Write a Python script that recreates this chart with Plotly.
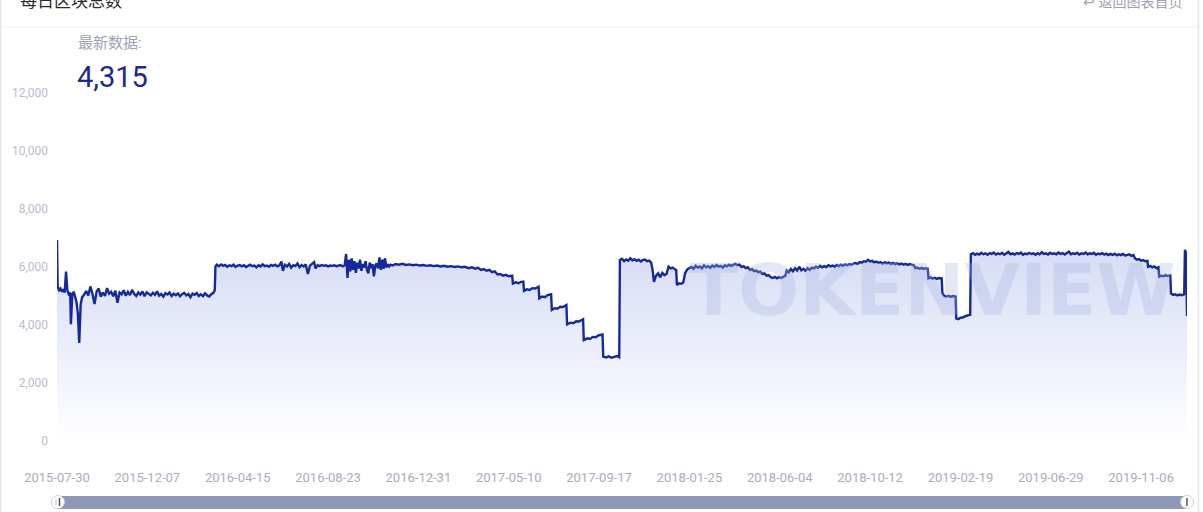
import plotly.graph_objects as go

# ---------------- data ----------------
tick_days = [0, 130, 260, 390, 520, 650, 780, 910, 1040, 1170, 1300, 1430, 1560]
tick_labels = ["2015-07-30", "2015-12-07", "2016-04-15", "2016-08-23", "2016-12-31",
               "2017-05-10", "2017-09-17", "2018-01-25", "2018-06-04", "2018-10-12",
               "2019-02-19", "2019-06-29", "2019-11-06"]
y_ticks = [0, 2000, 4000, 6000, 8000, 10000, 12000]
y_tick_labels = ["0", "2,000", "4,000", "6,000", "8,000", "10,000", "12,000"]
last_day = 1626
latest_value = "4,315"

# day index (days since 2015-07-30) and daily block count
days_2015 = [0, 1, 3, 5, 7, 9, 11, 13, 15, 17, 19, 20, 22, 24, 26, 28, 30, 32, 34, 36, 39, 42, 45, 48,
             51, 54, 57, 60, 63, 66, 69, 72, 75, 78, 81, 84, 87, 90, 93, 96, 99, 102, 105, 108, 111,
             114, 117, 120, 123, 126, 129, 132, 135, 138, 141, 144, 147, 150, 153, 156, 159, 162,
             165, 168, 171, 174, 177, 180, 183, 186, 189, 192, 195, 198, 201, 204, 207, 210, 213,
             216, 219, 222, 225, 227]
blocks_2015 = [6930, 5320, 5200, 5260, 5150, 5230, 5120, 5840, 5180, 5060, 5120, 4030, 5050, 5150,
               4980, 4800, 4400, 3380, 4700, 4950, 5050, 5170, 5020, 5330, 5080, 4720, 5150, 5260,
               4980, 5120, 5000, 5270, 5080, 5140, 4990, 5180, 4770, 5120, 5060, 5200, 5010, 5140,
               5030, 5210, 5080, 5000, 5120, 5050, 5160, 4990, 5130, 5060, 5020, 5110, 5040, 5160,
               5010, 5070, 4980, 5100, 5050, 5120, 5000, 5080, 5030, 5090, 4990, 5060, 5110, 5020,
               5070, 4960, 5080, 5040, 5100, 5000, 5060, 4990, 5090, 5020, 4980, 5060, 5110, 5200]

days_2016 = [228, 230, 233, 236, 239, 242, 245, 248, 251, 254, 257, 260, 263, 266, 269, 272, 275,
             278, 281, 284, 287, 290, 293, 296, 299, 302, 305, 308, 311, 314, 317, 320, 323, 325,
             328, 331, 334, 337, 340, 343, 346, 349, 352, 355, 358, 361, 364, 367, 370, 372, 375,
             378, 381, 384, 387, 390, 393, 396, 399, 402, 405, 408, 411, 414,
             416, 418, 420, 422, 424, 426, 428, 430, 432, 434, 436, 438, 440, 442, 444, 446, 448,
             450, 452, 454, 456, 458, 460, 462, 464, 466, 468, 470, 472, 474, 476, 478, 480, 483]
blocks_2016 = [6020, 6080, 6030, 6090, 6040, 6070, 6010, 6060, 6030, 6080, 6000, 6050, 6070, 6020,
               6060, 6000, 6040, 6080, 6030, 6050, 5990, 6060, 6020, 6090, 6030, 6050, 6010, 6070,
               6040, 6080, 6020, 6060, 6190, 5870, 6080, 6020, 6110, 5980, 6060, 6030, 6120, 5990,
               6070, 6020, 6090, 5760, 6050, 6100, 6170, 5950, 6060, 6030, 6070, 6040, 6060, 6020,
               6050, 6040, 6060, 6030, 6050, 6070, 6020, 6060,
               6450, 5620, 6250, 5850, 6300, 5900, 6200, 5800, 6150, 5950, 6250, 5870, 6100, 5980,
               6200, 5900, 5780, 6150, 5960, 6100, 5680, 6050, 6120, 5950, 6330, 5900, 6250, 5940,
               6300, 5980, 6100, 6020, 6080, 6050]

days_2017 = [487, 492, 497, 502, 507, 512, 517, 522, 527, 532, 537, 542, 547, 552, 557, 562, 567,
             572, 577, 582, 587, 592, 597, 602, 606, 610, 614, 618, 622, 626, 630, 634, 638, 642,
             646, 650, 655,
             656, 660, 664, 668, 671, 672, 676, 680, 684, 688, 693, 694, 698, 702, 706, 711, 712,
             716, 720, 724, 728, 733, 734, 739, 743, 747, 751, 757, 758, 763, 767, 771, 775, 779,
             785, 786, 790, 794, 798, 802, 806, 809]
blocks_2017 = [6100, 6080, 6110, 6070, 6090, 6060, 6080, 6050, 6070, 6040, 6060, 6030, 6050, 6020,
               6040, 6010, 6030, 6000, 6020, 5990, 6010, 5960, 5990, 5940, 5970, 5900, 5930, 5870,
               5900, 5820, 5850, 5740, 5760, 5700, 5730, 5680, 5700,
               5430, 5470, 5440, 5490, 5500, 5180, 5230, 5210, 5270, 5260, 5320, 4920, 4980, 4960,
               5030, 5060, 4520, 4580, 4560, 4630, 4620, 4690, 4020, 4080, 4060, 4130, 4120, 4200,
               3480, 3540, 3520, 3590, 3580, 3640, 3670, 2910, 2880, 2920, 2870, 2900, 2930, 2890]

days_2018 = [810, 813, 816, 819, 822, 825, 828, 831, 834, 837, 840, 843, 846, 849, 852, 855, 857,
             859, 862, 865, 868, 871, 874, 877, 880, 883, 886, 889, 891, 892, 895, 898, 901, 904,
             907, 910, 913, 916, 919, 922, 925, 928, 931, 934, 937, 940, 943, 946, 949, 952, 955,
             958, 961, 964, 967, 970, 973, 976, 979, 982, 985, 988, 991, 994, 997, 1000, 1003,
             1006, 1009, 1012, 1015, 1018, 1021, 1024, 1027, 1030, 1033, 1036, 1039, 1042, 1045,
             1048, 1050, 1053, 1056, 1059, 1062, 1065, 1068, 1071, 1074, 1077, 1080, 1083, 1086,
             1089, 1092, 1095, 1098, 1101, 1104, 1107, 1110, 1113, 1116, 1119, 1122, 1125, 1128,
             1131, 1134, 1137, 1140, 1143, 1146, 1149, 1152, 1155, 1158, 1161, 1164, 1167, 1170,
             1173, 1176, 1179, 1182, 1185, 1188, 1191, 1194, 1197, 1200, 1203, 1206, 1209, 1212,
             1215, 1218, 1221, 1224, 1227, 1230, 1233, 1235, 1238, 1241, 1244, 1247, 1250, 1253,
             1254, 1257, 1260, 1263, 1266, 1269, 1273, 1274, 1277, 1280, 1283, 1286, 1289, 1293]
blocks_2018 = [6240, 6280, 6200, 6260, 6220, 6300, 6230, 6270, 6210, 6250, 6190, 6240, 6260, 6200,
               6220, 6150, 5900, 5490, 5700, 5780, 5650, 5800, 5720, 5760, 6010, 5950, 5980, 5920,
               5900, 5380, 5440, 5420, 5460, 5800, 5920, 5960, 6000, 5940, 6040, 5980, 6020, 5950,
               6060, 5990, 6030, 5970, 6050, 6000, 6070, 6010, 6040, 5980, 6060, 6020, 6080, 6040,
               6090, 6110, 6060, 6080, 6000, 6030, 5960, 5990, 5900, 5930, 5860, 5880, 5820, 5840,
               5760, 5780, 5700, 5720, 5650, 5620, 5660, 5610, 5650, 5620, 5660, 5700, 5880, 5820,
               5930, 5850, 5960, 5880, 6010, 5890, 5940, 5870, 5960, 5900, 5980, 5950, 6010, 5970,
               6040, 5990, 6030, 6000, 6060, 6020, 6050, 6010, 6070, 6030, 6080, 6040, 6090, 6060,
               6100, 6080, 6120, 6140, 6110, 6170, 6150, 6200, 6180, 6250, 6190, 6210, 6160, 6190,
               6140, 6170, 6120, 6160, 6130, 6150, 6110, 6140, 6100, 6130, 6090, 6120, 6080, 6110,
               6070, 6100, 6080, 6060, 5960, 5980, 5940, 5970, 5930, 5960, 5940, 5610, 5640, 5600,
               5630, 5590, 5620, 5610, 5090, 5000, 4980, 5010, 4970, 5000, 4980]

days_2019 = [1294, 1297, 1300, 1303, 1306, 1309, 1312, 1314, 1315, 1318, 1321, 1324, 1327, 1330,
             1333, 1336, 1339, 1342, 1345, 1348, 1351, 1354, 1357, 1360, 1363, 1366, 1369, 1372,
             1375, 1378, 1381, 1384, 1387, 1390, 1393, 1396, 1399, 1402, 1405, 1408, 1411, 1414,
             1417, 1420, 1423, 1426, 1429, 1432, 1435, 1438, 1441, 1444, 1447, 1450, 1453, 1456,
             1459, 1462, 1465, 1468, 1471, 1474, 1477, 1480, 1483, 1486, 1489, 1492, 1495, 1498,
             1501, 1504, 1507, 1510, 1513, 1516, 1519, 1522, 1525, 1528, 1531, 1534, 1537, 1540,
             1543, 1546, 1549, 1551, 1554, 1557, 1560, 1563, 1566, 1569, 1570, 1573, 1576, 1579,
             1582, 1585, 1586, 1589, 1592, 1595, 1598, 1602, 1603, 1606, 1609, 1612, 1615, 1618,
             1621, 1622, 1623, 1625, 1626]
blocks_2019 = [4230, 4200, 4250, 4260, 4300, 4320, 4340, 4350, 6440, 6480, 6420, 6460, 6430, 6490,
               6440, 6470, 6420, 6480, 6450, 6500, 6430, 6470, 6440, 6490, 6420, 6460, 6520, 6440,
               6470, 6430, 6480, 6450, 6500, 6420, 6460, 6440, 6490, 6450, 6470, 6420, 6480, 6440,
               6510, 6450, 6470, 6430, 6490, 6450, 6470, 6440, 6500, 6450, 6480, 6430, 6470, 6530,
               6440, 6470, 6450, 6490, 6430, 6470, 6450, 6500, 6440, 6470, 6450, 6490, 6420, 6460,
               6440, 6480, 6430, 6460, 6410, 6450, 6420, 6460, 6400, 6440, 6410, 6450, 6390, 6420,
               6440, 6380, 6410, 6300, 6250, 6270, 6220, 6240, 6200, 6210, 6010, 6040, 5990, 6020,
               5960, 5990, 5670, 5700, 5680, 5720, 5690, 5710, 5090, 5040, 5060, 5020, 5050, 5030,
               5050, 5060, 6590, 6480, 4315]

days = days_2015 + days_2016 + days_2017 + days_2018 + days_2019
blocks = blocks_2015 + blocks_2016 + blocks_2017 + blocks_2018 + blocks_2019

# ---------------- layout helpers (pixel -> paper) ----------------
W, H = 1203, 512
ML, MR, MT, MB = 57, 16, 93, 71
PW, PH = W - ML - MR, H - MT - MB


def px(x):
    return (x - ML) / PW


def py(y):
    return (H - MB - y) / PH


FONT = "Roboto, Noto Sans CJK SC, sans-serif"

fig = go.Figure()
fig.add_trace(go.Scatter(
    x=days, y=blocks, mode="lines",
    line=dict(color="#16299b", width=2.4),
    fill="tozeroy",
    fillgradient=dict(type="vertical", start=0, stop=7000,
                      colorscale=[[0, "rgb(255,255,255)"], [1, "rgb(212,218,245)"]]),
    hoverinfo="x+y", showlegend=False,
))

shapes = [
    # card borders and header separator
    dict(type="line", xref="paper", yref="paper", x0=px(0.5), x1=px(0.5), y0=py(0), y1=py(512),
         line=dict(color="#e3e3e3", width=1.5)),
    dict(type="line", xref="paper", yref="paper", x0=px(1198.5), x1=px(1198.5), y0=py(0), y1=py(512),
         line=dict(color="#e6e6e6", width=1.5)),
    dict(type="line", xref="paper", yref="paper", x0=px(0), x1=px(1198), y0=py(27), y1=py(27),
         line=dict(color="#efefef", width=1)),
    # data-zoom slider bar
    dict(type="rect", xref="paper", yref="paper", x0=px(58), x1=px(1186), y0=py(496), y1=py(509),
         fillcolor="#8f99b5", line=dict(width=0)),
    # handles
    dict(type="circle", xref="paper", yref="paper", x0=px(51.5), x1=px(64.5), y0=py(495.5), y1=py(508.5),
         fillcolor="white", line=dict(color="#c9cdd8", width=1)),
    dict(type="line", xref="paper", yref="paper", x0=px(56), x1=px(56), y0=py(499), y1=py(505),
         line=dict(color="#c0c0c0", width=1)),
    dict(type="line", xref="paper", yref="paper", x0=px(59.5), x1=px(59.5), y0=py(498), y1=py(506),
         line=dict(color="#555555", width=1.5)),
    dict(type="circle", xref="paper", yref="paper", x0=px(1180.5), x1=px(1193.5), y0=py(495.5), y1=py(508.5),
         fillcolor="white", line=dict(color="#c9cdd8", width=1)),
    dict(type="line", xref="paper", yref="paper", x0=px(1187), x1=px(1187), y0=py(498), y1=py(506),
         line=dict(color="#555555", width=1.5)),
]

annotations = [
    dict(text="每日区块总数", xref="paper", yref="paper", x=px(18), y=py(1), xanchor="left",
         yanchor="middle", showarrow=False, font=dict(family=FONT, size=17, color="#2b2b2b")),
    dict(text="↩ 返回图表首页", xref="paper", yref="paper", x=px(1184), y=py(2), xanchor="right",
         yanchor="middle", showarrow=False, font=dict(family=FONT, size=14, color="#9ea2ae")),
    dict(text="最新数据:", xref="paper", yref="paper", x=px(76), y=py(43), xanchor="left",
         yanchor="middle", showarrow=False, font=dict(family=FONT, size=15, color="#9ca2b6")),
    dict(text=latest_value, xref="paper", yref="paper", x=px(75), y=py(77), xanchor="left",
         yanchor="middle", showarrow=False, font=dict(family=FONT, size=29, color="#1b2a8c")),
    dict(text="<b>TOKENVIEW</b>", xref="paper", yref="paper", x=px(932), y=py(290), xanchor="center",
         yanchor="middle", showarrow=False,
         font=dict(family="DejaVu Sans", size=72, color="rgba(165,178,222,0.3)")),
]

fig.update_layout(
    width=W, height=H,
    margin=dict(l=ML, r=MR, t=MT, b=MB),
    paper_bgcolor="white", plot_bgcolor="white",
    shapes=shapes, annotations=annotations,
    xaxis=dict(range=[0, last_day], tickvals=tick_days, ticktext=tick_labels,
               showgrid=False, zeroline=False, showline=False, ticks="",
               ticklabelstandoff=27, tickfont=dict(family=FONT, size=13, color="#a8adbc"),
               fixedrange=True),
    yaxis=dict(range=[0, 12000], tickvals=y_ticks, ticktext=y_tick_labels,
               showgrid=False, zeroline=False, showline=False, ticks="",
               ticklabelstandoff=8, tickfont=dict(family=FONT, size=12, color="#b8bccb"),
               fixedrange=True),
    font=dict(family=FONT),
)

fig.write_html("out.html", config={"displayModeBar": False},
               post_script="document.body.style.margin='0px';document.body.style.overflow='hidden';")
